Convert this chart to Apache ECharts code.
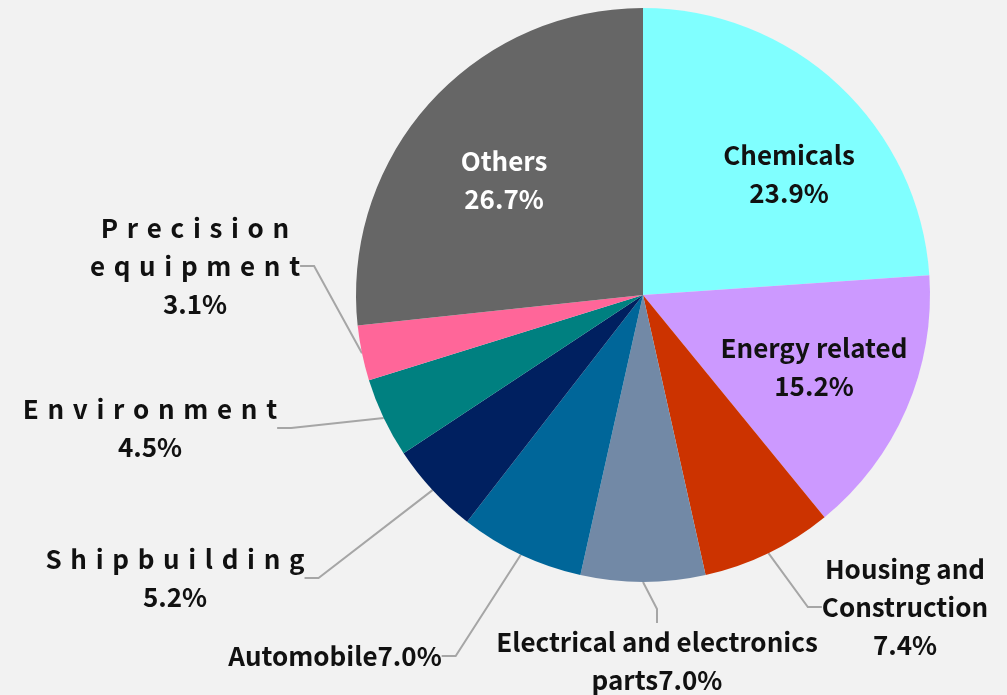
<!DOCTYPE html>
<html>
<head>
<meta charset="utf-8">
<script src="https://cdn.jsdelivr.net/npm/echarts@6/dist/echarts.min.js"></script>
<style>
  html, body { margin: 0; padding: 0; background: #f2f2f2; }
  #main { width: 1007px; height: 695px; }
</style>
</head>
<body>
<div id="main"></div>
<script>
// 数据
var categories = ['Chemicals', 'Energy related', 'Housing and Construction',
  'Electrical and electronics parts', 'Automobile', 'Shipbuilding',
  'Environment', 'Precision equipment', 'Others'];
var shares = [23.9, 15.2, 7.4, 7.0, 7.0, 5.2, 4.5, 3.1, 26.7];
var colors = ['#80ffff', '#cc99ff', '#cc3300', '#7289a6', '#006699',
  '#002060', '#008080', '#ff6699', '#666666'];

// 文字间距 (reference uses wide letter spacing on some labels)
function spaced(s) { return s.split('').join('\u2004'); }

// label text as shown in the picture
var labelTexts = [
  'Chemicals\n23.9%',
  'Energy related\n15.2%',
  'Housing and\nConstruction\n7.4%',
  'Electrical and electronics\nparts7.0%',
  'Automobile7.0%',
  spaced('Shipbuilding') + '\n5.2%',
  spaced('Environment') + '\n4.5%',
  spaced('Precision') + '\n' + spaced('equipment') + '\n3.1%',
  'Others\n26.7%'
];
var insideIdx = [0, 1, 8];
// label centres
var labelPos = [
  [789, 174], [814, 367], [905, 607], [657, 661], [335, 656],
  [175, 578], [150, 428], [195, 266], [504, 180]
];

var myChart = echarts.init(document.getElementById('main'));

var data = categories.map(function (name, i) {
  var inside = insideIdx.indexOf(i) >= 0;
  return {
    name: name,
    value: shares[i],
    itemStyle: { color: colors[i] },
    label: {
      position: inside ? 'inside' : 'outside',
      color: i === 8 ? '#ffffff' : '#111111'
    },
    labelLine: { show: !inside }
  };
});

var option = {
  backgroundColor: '#f2f2f2',
  animation: false,
  series: [{
    type: 'pie',
    center: [643, 295],
    radius: 287,
    startAngle: 90,
    clockwise: true,
    avoidLabelOverlap: false,
    data: data,
    label: {
      show: true,
      fontFamily: 'Noto Sans CJK JP',
      fontWeight: 'bold',
      fontSize: 26,
      lineHeight: 38,
      align: 'center',
      formatter: function (p) { return labelTexts[p.dataIndex]; }
    },
    labelLine: {
      show: true,
      length: 20,
      length2: 14,
      lineStyle: { color: '#a6a6a6', width: 2 }
    },
    labelLayout: function (params) {
      var p = labelPos[params.dataIndex];
      return { x: p[0], y: p[1], align: 'center', verticalAlign: 'middle' };
    },
    emphasis: { disabled: true }
  }]
};

myChart.setOption(option);
</script>
</body>
</html>
